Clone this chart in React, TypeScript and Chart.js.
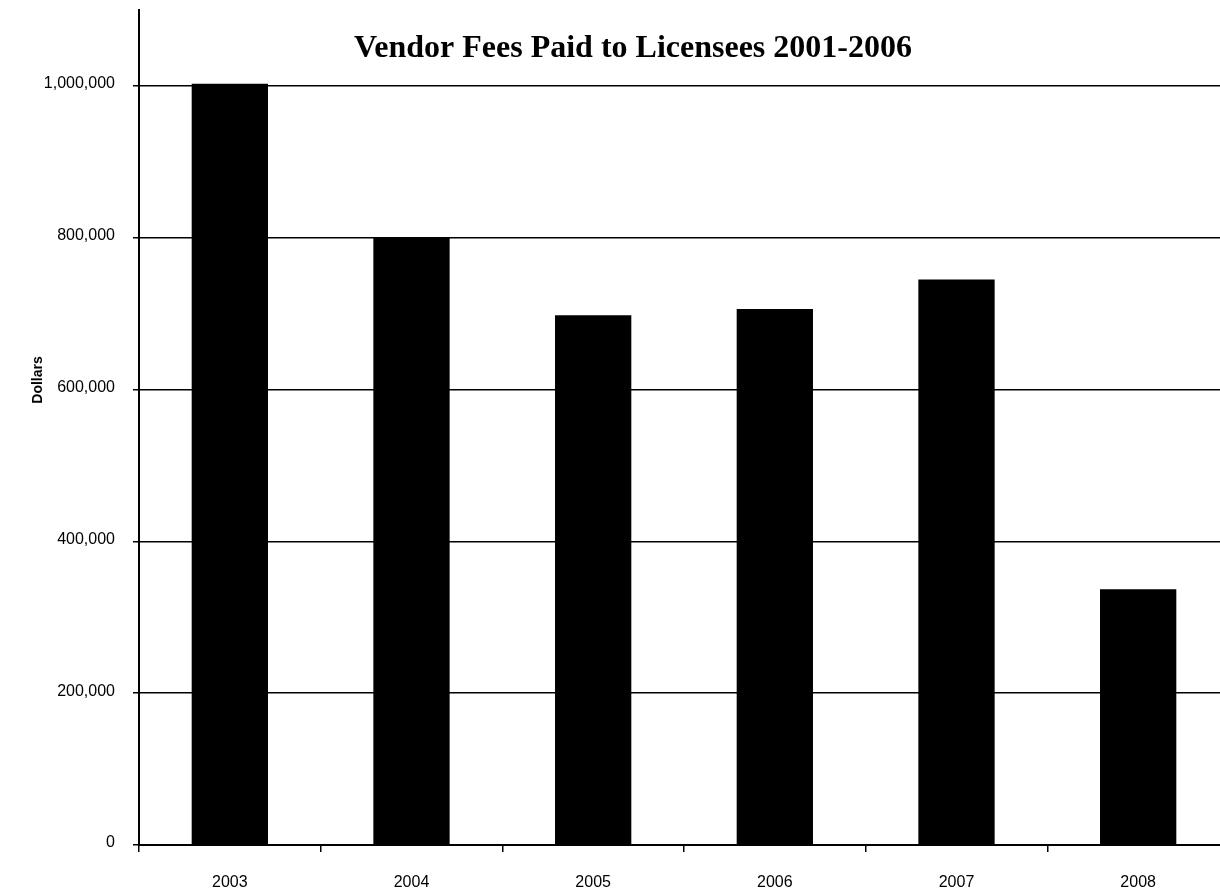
import React, { useEffect, useRef } from "react";
import { Chart, registerables } from "chart.js";

Chart.register(...registerables);

const years: string[] = ["2003", "2004", "2005", "2006", "2007", "2008"];
const fees: number[] = [1003000, 801000, 698000, 706000, 745000, 337000];
const yTicks: number[] = [0, 200000, 400000, 600000, 800000, 1000000];
const titleText = "Vendor Fees Paid to Licensees 2001-2006";
const yAxisLabel = "Dollars";
const yMax = 1100000;

const SANS = '"Liberation Sans", Arial, sans-serif';
const SERIF = '"Liberation Serif", "Times New Roman", serif';

const overlayText = {
  id: "overlayText",
  afterDraw(chart: any) {
    const ctx = chart.ctx;
    ctx.save();
    ctx.fillStyle = "#000";
    ctx.font = `bold 32px ${SERIF}`;
    ctx.textAlign = "center";
    ctx.textBaseline = "alphabetic";
    ctx.fillText(titleText, 633, 57);
    ctx.translate(38, 380);
    ctx.rotate(-Math.PI / 2);
    ctx.font = `bold 14px ${SANS}`;
    ctx.textBaseline = "middle";
    ctx.fillText(yAxisLabel, 0, 0);
    ctx.restore();
  },
};

export default function App() {
  const ref = useRef<HTMLCanvasElement | null>(null);
  useEffect(() => {
    if (!ref.current) return;
    const chart = new Chart(ref.current, {
      type: "bar",
      data: {
        labels: years,
        datasets: [
          {
            data: fees,
            backgroundColor: "#000",
            borderWidth: 0,
            barPercentage: 0.42,
            categoryPercentage: 1,
          },
        ],
      },
      plugins: [overlayText],
      options: {
        responsive: false,
        animation: false,
        layout: { padding: { top: 10, right: 11, bottom: 0, left: 0 } },
        plugins: { legend: { display: false }, title: { display: false }, tooltip: { enabled: false } },
        scales: {
          x: {
            grid: {
              offset: true,
              drawOnChartArea: false,
              drawTicks: true,
              tickLength: 7,
              color: "#000",
              lineWidth: 1.5,
            },
            border: { color: "#000", width: 2 },
            ticks: {
              color: "#000",
              font: { family: SANS, size: 16 },
              padding: 21,
              maxRotation: 0,
            },
            afterFit: (scale: any) => {
              scale.height = 47;
            },
          },
          y: {
            min: 0,
            max: yMax,
            grid: { color: "#000", lineWidth: 1.5, tickLength: 6, drawTicks: true },
            border: { color: "#000", width: 2 },
            ticks: {
              color: "#000",
              padding: 18,
              labelOffset: -2,
              font: { family: SANS, size: 16 },
              callback: (v: any) => Number(v).toLocaleString("en-US"),
            },
            afterBuildTicks: (scale: any) => {
              scale.ticks = yTicks.map((v) => ({ value: v }));
            },
            afterFit: (scale: any) => {
              scale.width = 139;
              scale.paddingTop = 0;
              scale.paddingBottom = 0;
            },
          },
        },
      },
    });
    return () => chart.destroy();
  }, []);
  return (
    <div style={{ position: "fixed", left: 0, top: 0, width: 1220, height: 892, overflow: "hidden", background: "#fff" }}>
      <canvas ref={ref} width={1240} height={892} style={{ display: "block" }} />
    </div>
  );
}
